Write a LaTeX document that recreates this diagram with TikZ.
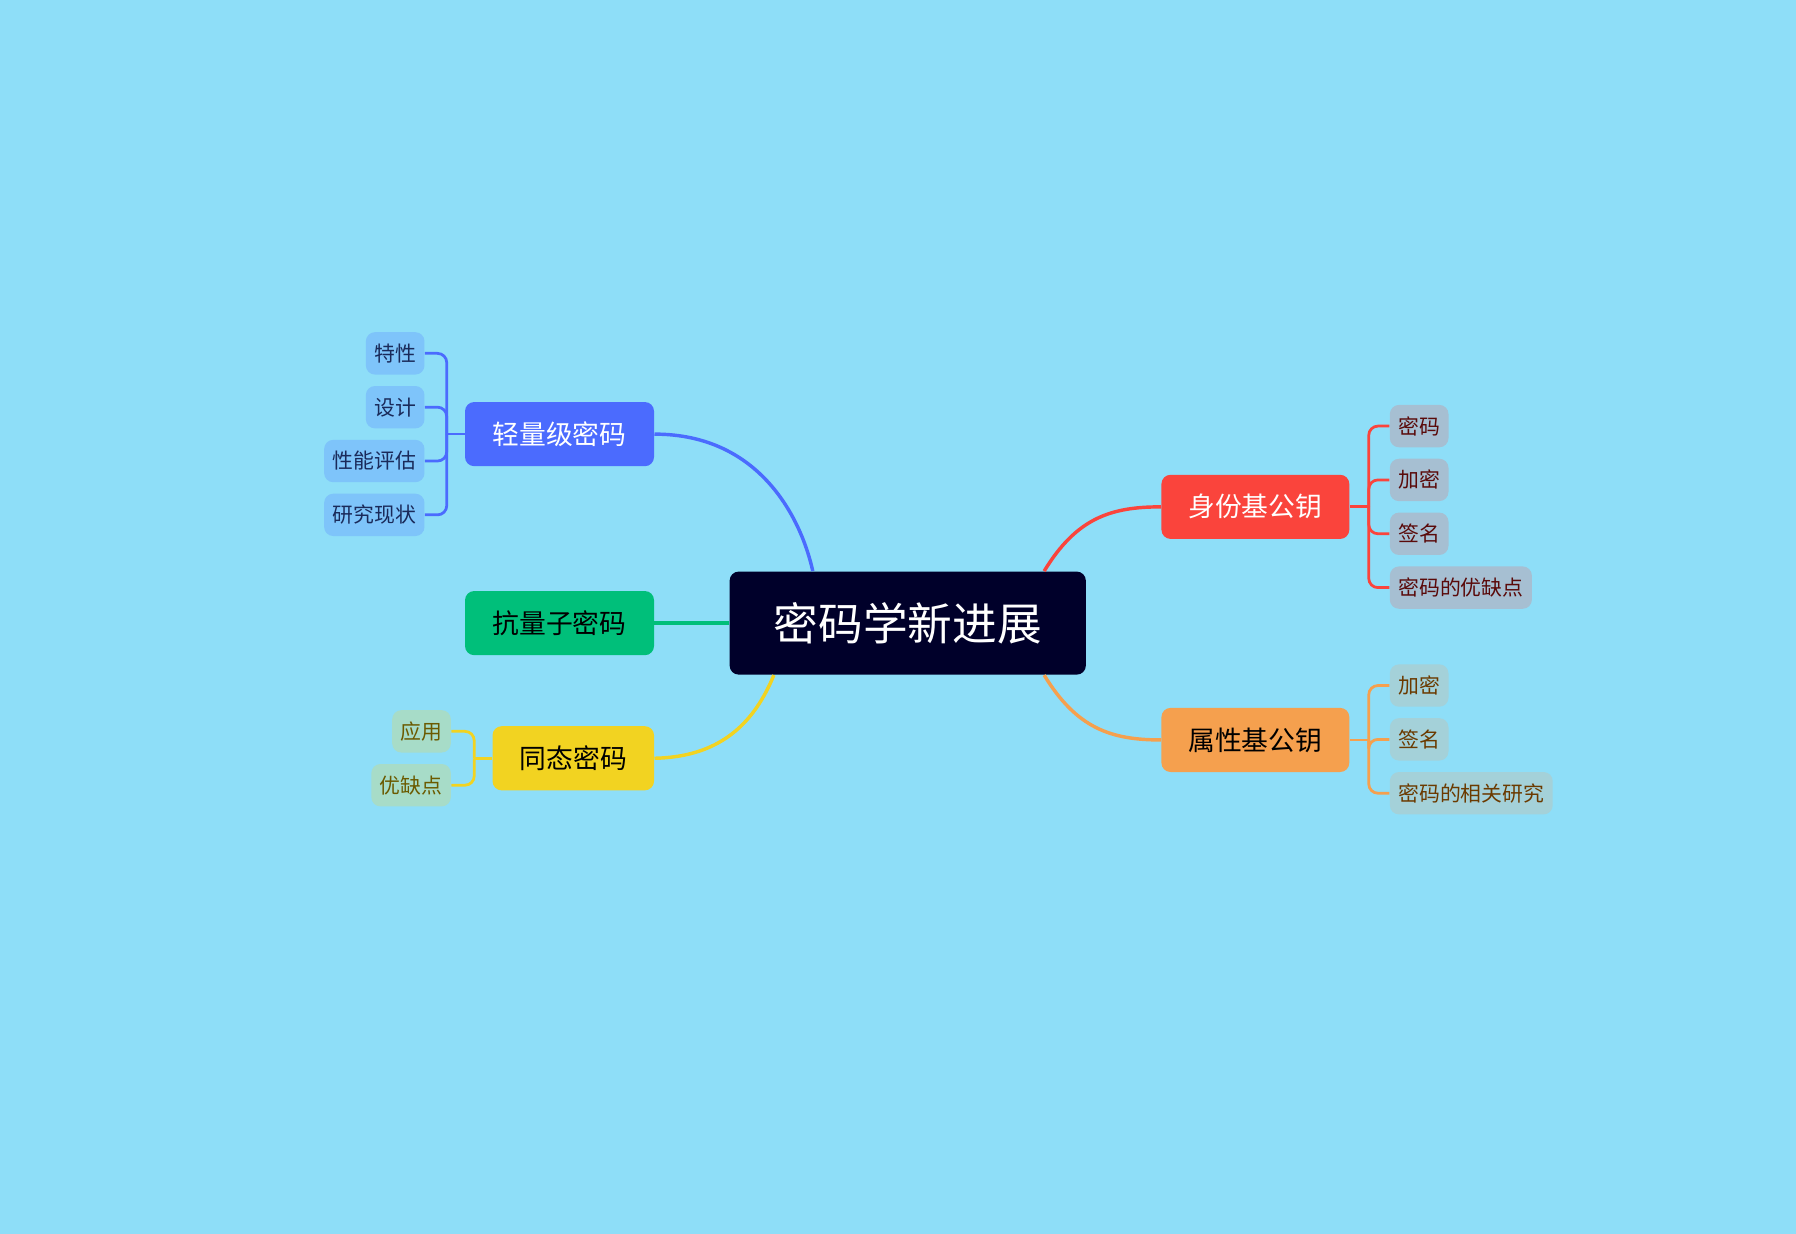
\documentclass[tikz,border=0pt]{standalone}
\usepackage{fontspec}
\newfontfamily\cjk{Noto Sans CJK SC}
\definecolor{bg}{HTML}{8EDEF8}
\definecolor{cnavy}{HTML}{00002A}
\definecolor{cblue}{HTML}{4B6BFE}
\definecolor{cgreen}{HTML}{00BF7A}
\definecolor{cyellow}{HTML}{F2D321}
\definecolor{cred}{HTML}{FA443C}
\definecolor{corange}{HTML}{F5A04E}
\definecolor{lblue}{HTML}{7EC4FA}
\definecolor{tblue}{HTML}{1A2A5A}
\definecolor{lyellow}{HTML}{A7DCC8}
\definecolor{tyellow}{HTML}{6B5A00}
\definecolor{lred}{HTML}{A6BFD2}
\definecolor{tred}{HTML}{5A0A0A}
\definecolor{lorange}{HTML}{A4D1D9}
\definecolor{torange}{HTML}{6B3A00}
\tikzset{
 mainnode/.style={rounded corners=4pt, minimum height=28pt, inner sep=0pt, font=\cjk\fontsize{11.7}{13}\selectfont},
 leafnode/.style={rounded corners=4pt, minimum height=18.5pt, inner xsep=3.7pt, inner ysep=0pt, font=\cjk\fontsize{9.1}{10}\selectfont},
 bigline/.style={line width=1.5pt},
 leafline/.style={line width=1.2pt, rounded corners=4pt}
}
\begin{document}
\begin{tikzpicture}[x=0.5pt,y=-0.5pt]
\fill[bg] (0,0) rectangle (1568,1077);
\useasboundingbox (0,0) rectangle (1568,1077);
% center
\node[fill=cnavy, rounded corners=4pt, minimum width=155.5pt, minimum height=45pt, inner sep=0pt, text=white, font=\cjk\fontsize{19.5}{21}\selectfont] (center) at (792.5,544) {密码学新进展};
% main branches
\node[mainnode, fill=cblue, text=white, minimum width=82.5pt] (light) at (488.5,379) {轻量级密码};
\node[mainnode, fill=cgreen, text=black, minimum width=82.5pt] (quantum) at (488.5,544) {抗量子密码};
\node[mainnode, fill=cyellow, text=black, minimum width=70.5pt] (homo) at (500.5,662) {同态密码};
\node[mainnode, fill=cred, text=white, minimum width=82pt] (ident) at (1096,442.5) {身份基公钥};
\node[mainnode, fill=corange, text=black, minimum width=82pt] (attr) at (1096,646) {属性基公钥};
% center connectors
\draw[bigline, cblue] ([xshift=36.5pt]center.north west) .. controls (700,455) and (665,379) .. (light.east);
\draw[bigline, cgreen] (center.west |- quantum.east) -- (quantum.east);
\draw[bigline, cyellow] ([xshift=19.5pt]center.south west) .. controls (655,640) and (620,661) .. (homo.east);
\draw[bigline, cred] ([xshift=137.5pt]center.north west) .. controls (940,452) and (970,442.5) .. (ident.west);
\draw[bigline, corange] ([xshift=137.5pt]center.south west) .. controls (940,636) and (970,646) .. (attr.west);
% light leaves
\node[leafnode, fill=lblue, text=tblue, anchor=east] (l1) at (371,308.5) {特性};
\node[leafnode, fill=lblue, text=tblue, anchor=east] (l2) at (371,355.5) {设计};
\node[leafnode, fill=lblue, text=tblue, anchor=east] (l3) at (371,402.5) {性能评估};
\node[leafnode, fill=lblue, text=tblue, anchor=east] (l4) at (371,449.5) {研究现状};
\coordinate (lj) at (390,379);
\draw[leafline, cblue] (light.west) -- (lj);
\foreach \n in {l1,l2,l3,l4} \draw[leafline, cblue] (lj) |- (\n.east);
% homo leaves
\node[leafnode, fill=lyellow, text=tyellow, anchor=east] (h1) at (394,638.5) {应用};
\node[leafnode, fill=lyellow, text=tyellow, anchor=east] (h2) at (394,685.5) {优缺点};
\coordinate (hj) at (414,662);
\draw[leafline, cyellow] (homo.west) -- (hj);
\foreach \n in {h1,h2} \draw[leafline, cyellow] (hj) |- (\n.east);
% ident leaves
\node[leafnode, fill=lred, text=tred, anchor=west] (i1) at (1213,372) {密码};
\node[leafnode, fill=lred, text=tred, anchor=west] (i2) at (1213,419) {加密};
\node[leafnode, fill=lred, text=tred, anchor=west] (i3) at (1213,466) {签名};
\node[leafnode, fill=lred, text=tred, anchor=west] (i4) at (1213,513) {密码的优缺点};
\coordinate (ij) at (1195,442.5);
\draw[leafline, cred] (ident.east) -- (ij);
\foreach \n in {i1,i2,i3,i4} \draw[leafline, cred] (ij) |- (\n.west);
% attr leaves
\node[leafnode, fill=lorange, text=torange, anchor=west] (a1) at (1213,598.5) {加密};
\node[leafnode, fill=lorange, text=torange, anchor=west] (a2) at (1213,645.5) {签名};
\node[leafnode, fill=lorange, text=torange, anchor=west] (a3) at (1213,692.5) {密码的相关研究};
\coordinate (aj) at (1195,646);
\draw[leafline, corange] (attr.east) -- (aj);
\foreach \n in {a1,a2,a3} \draw[leafline, corange] (aj) |- (\n.west);
\end{tikzpicture}
\end{document}
